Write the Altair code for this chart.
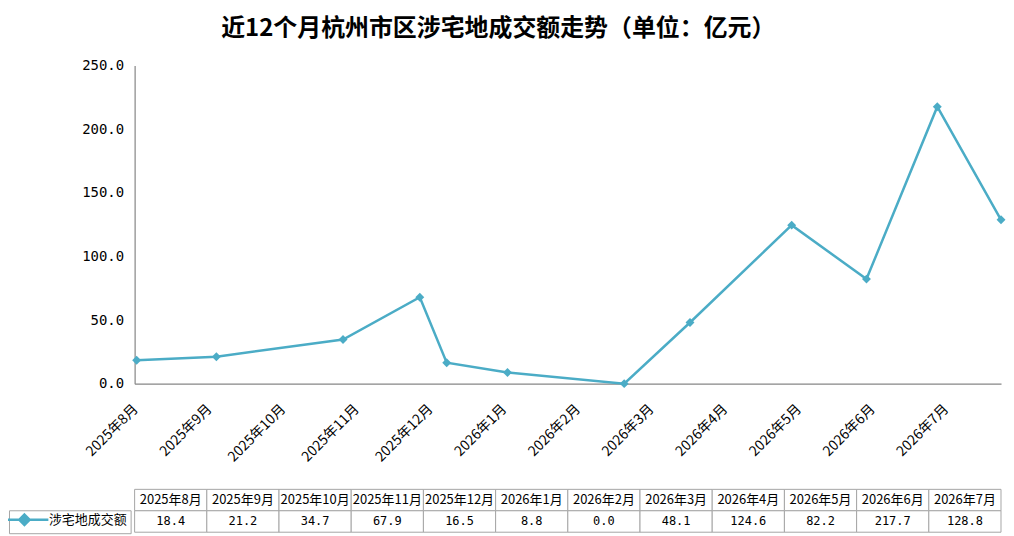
import json
import altair as alt
import pandas as pd

# ---- data ----
months = ["2025年8月", "2025年9月", "2025年10月", "2025年11月", "2025年12月", "2026年1月",
          "2026年2月", "2026年3月", "2026年4月", "2026年5月", "2026年6月", "2026年7月"]
values = [18.4, 21.2, 34.7, 67.9, 16.5, 8.8, 0.0, 48.1, 124.6, 82.2, 217.7, 128.8]
# horizontal placement of each point on the month axis (in month units, as drawn in the source)
x_place = [0.014, 1.096, 2.815, 3.857, 4.222, 5.047, 6.631, 7.524, 8.904, 9.919, 10.880, 11.745]
month_index = list(range(12))
y_ticks = [0, 50, 100, 150, 200, 250]
series_name = "涉宅地成交额"
title_text = "近12个月杭州市区涉宅地成交额走势（单位：亿元）"

TEAL = "#4BACC6"
GRID = "#A6A6A6"
CJK = "Noto Sans CJK SC"

line_df = pd.DataFrame({"x": x_place, "value": values, "series": [series_name] * 12})

rows = []
for i, m, v in zip(month_index, months, values):
    rows.append({"i": i, "row": "a", "text": m})
    rows.append({"i": i, "row": "b", "text": f"{v:.1f}"})
table_df = pd.DataFrame(rows)

label_expr = json.dumps(months, ensure_ascii=False) + "[datum.value]"

x_enc = alt.X(
    "x:Q",
    scale=alt.Scale(domain=[-0.0135, 11.745], nice=False, zero=False),
    axis=alt.Axis(values=month_index, labelExpr=label_expr, labelAngle=-45,
                  labelAlign="right", labelBaseline="middle", labelFlush=False,
                  labelOverlap=False, ticks=False, grid=False, domainColor="#868686",
                  domainWidth=1.2, labelFont=CJK, labelFontSize=14, labelColor="black",
                  labelPadding=23, title=None),
)
y_enc = alt.Y(
    "value:Q",
    scale=alt.Scale(domain=[0, 250], nice=False),
    axis=alt.Axis(values=y_ticks, format=".1f", ticks=False, grid=False,
                  domainColor="#868686", domainWidth=1.2, labelFont="DejaVu Sans Mono",
                  labelFontSize=14, labelColor="black", labelPadding=11, title=None),
)

legend_symbol = "M-6,0L6,0M0,-1.3L1.3,0L0,1.3L-1.3,0Z"

base = alt.Chart(line_df)
line = base.mark_line(color=TEAL, strokeWidth=2.5).encode(x=x_enc, y=y_enc)
points = base.mark_point(shape="diamond", size=80, filled=True, opacity=1).encode(
    x="x:Q", y="value:Q",
    color=alt.Color("series:N", scale=alt.Scale(range=[TEAL]),
                    legend=alt.Legend(title=None, orient="none", legendX=-126, legendY=446,
                                      symbolType=legend_symbol, symbolSize=64,
                                      symbolStrokeWidth=2.5, symbolStrokeColor=TEAL,
                                      symbolFillColor=TEAL, symbolOffset=6, labelOffset=18,
                                      labelFont=CJK, labelFontSize=13, labelColor="black",
                                      strokeColor=GRID, padding=3, labelLimit=0)),
)
top = alt.layer(line, points).properties(width=869, height=319)

tbase = alt.Chart(table_df).transform_calculate(i2="datum.i + 1", mid="datum.i + 0.5")
tx = alt.Scale(domain=[0, 12], nice=False, zero=False)
ty = alt.Scale(domain=["a", "b"], paddingInner=0, paddingOuter=0)
cells = tbase.mark_rect(fill="white", stroke=GRID, strokeWidth=1).encode(
    x=alt.X("i:Q", scale=tx, axis=None), x2="i2:Q",
    y=alt.Y("row:N", scale=ty, axis=None),
)
header_txt = tbase.transform_filter("datum.row == 'a'").mark_text(
    font=CJK, fontSize=13, color="black").encode(
    x=alt.X("mid:Q", scale=tx, axis=None), y=alt.Y("row:N", scale=ty, axis=None), text="text:N")
value_txt = tbase.transform_filter("datum.row == 'b'").mark_text(
    font="DejaVu Sans Mono", fontSize=12, color="black").encode(
    x=alt.X("mid:Q", scale=tx, axis=None), y=alt.Y("row:N", scale=ty, axis=None), text="text:N")
table = alt.layer(cells, header_txt, value_txt).properties(width=869, height=43)

chart = alt.vconcat(top, table, spacing=106, bounds="flush").properties(
    title=alt.TitleParams(title_text, font=CJK, fontSize=24, fontWeight="bold",
                          anchor="middle", color="black", offset=18, dx=-9),
    padding={"left": 0, "top": 8, "right": 0, "bottom": 0},
).configure_view(stroke=None).resolve_scale(x="independent", y="independent")

chart.save("out.html", embed_options={"renderer": "svg", "actions": False})
